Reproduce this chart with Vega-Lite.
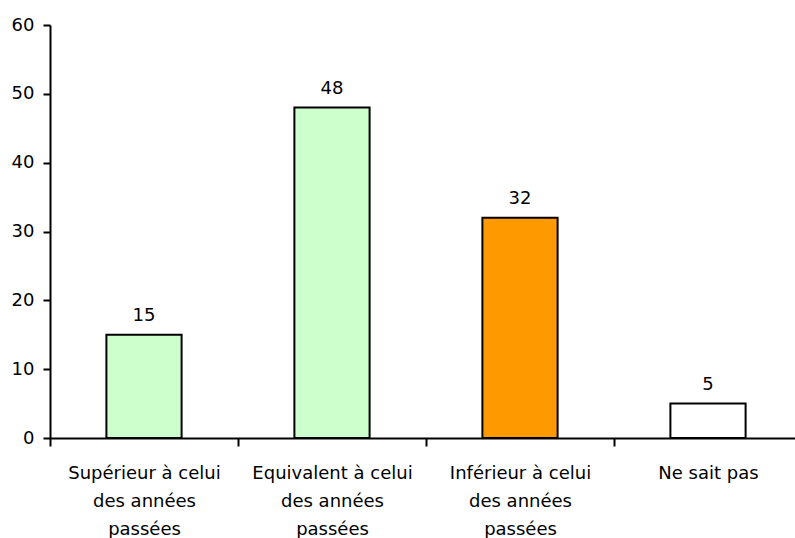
{
  "$schema": "https://vega.github.io/schema/vega-lite/v6.json",
  "width": 745,
  "height": 413,
  "autosize": {"type": "none"},
  "padding": {"left": 50, "top": 25, "right": 0, "bottom": 100},
  "background": "white",
  "config": {
    "view": {"stroke": null},
    "font": "DejaVu Sans"
  },
  "data": {
    "values": [
      {"cat": "Supérieur à celui des années passées", "value": 15, "color": "#CCFFCC"},
      {"cat": "Equivalent à celui des années passées", "value": 48, "color": "#CCFFCC"},
      {"cat": "Inférieur à celui des années passées", "value": 32, "color": "#FF9900"},
      {"cat": "Ne sait pas", "value": 5, "color": "#FFFFFF"}
    ]
  },
  "encoding": {
    "x": {
      "field": "cat",
      "type": "nominal",
      "sort": null,
      "scale": {"paddingInner": 0, "paddingOuter": 0, "range": [0, 752]},
      "axis": {
        "title": null,
        "labelAngle": 0,
        "tickBand": "extent",
        "labelExpr": "isValid(datum.value) ? split(replace(datum.value, ' des années passées', '|des années|passées'), '|') : ''",
        "labelFontSize": 18,
        "labelColor": "#000000",
        "labelLineHeight": 28,
        "labelPadding": 18,
        "labelBaseline": "top",
        "domainColor": "#000000",
        "domainWidth": 2,
        "tickColor": "#000000",
        "tickWidth": 2,
        "tickSize": 8
      }
    },
    "y": {
      "field": "value",
      "type": "quantitative",
      "scale": {"domain": [0, 60]},
      "axis": {
        "title": null,
        "values": [0, 10, 20, 30, 40, 50, 60],
        "grid": false,
        "labelFontSize": 18,
        "labelColor": "#000000",
        "labelPadding": 9,
        "domainColor": "#000000",
        "domainWidth": 2,
        "tickColor": "#000000",
        "tickWidth": 2,
        "tickSize": 7
      }
    }
  },
  "layer": [
    {
      "mark": {"type": "bar", "width": {"band": 0.4}, "stroke": "#000000", "strokeWidth": 2},
      "encoding": {
        "color": {"field": "color", "type": "nominal", "scale": null}
      }
    },
    {
      "mark": {"type": "text", "baseline": "alphabetic", "dy": -14, "fontSize": 18, "color": "#000000"},
      "encoding": {
        "text": {"field": "value", "type": "quantitative"}
      }
    }
  ]
}
